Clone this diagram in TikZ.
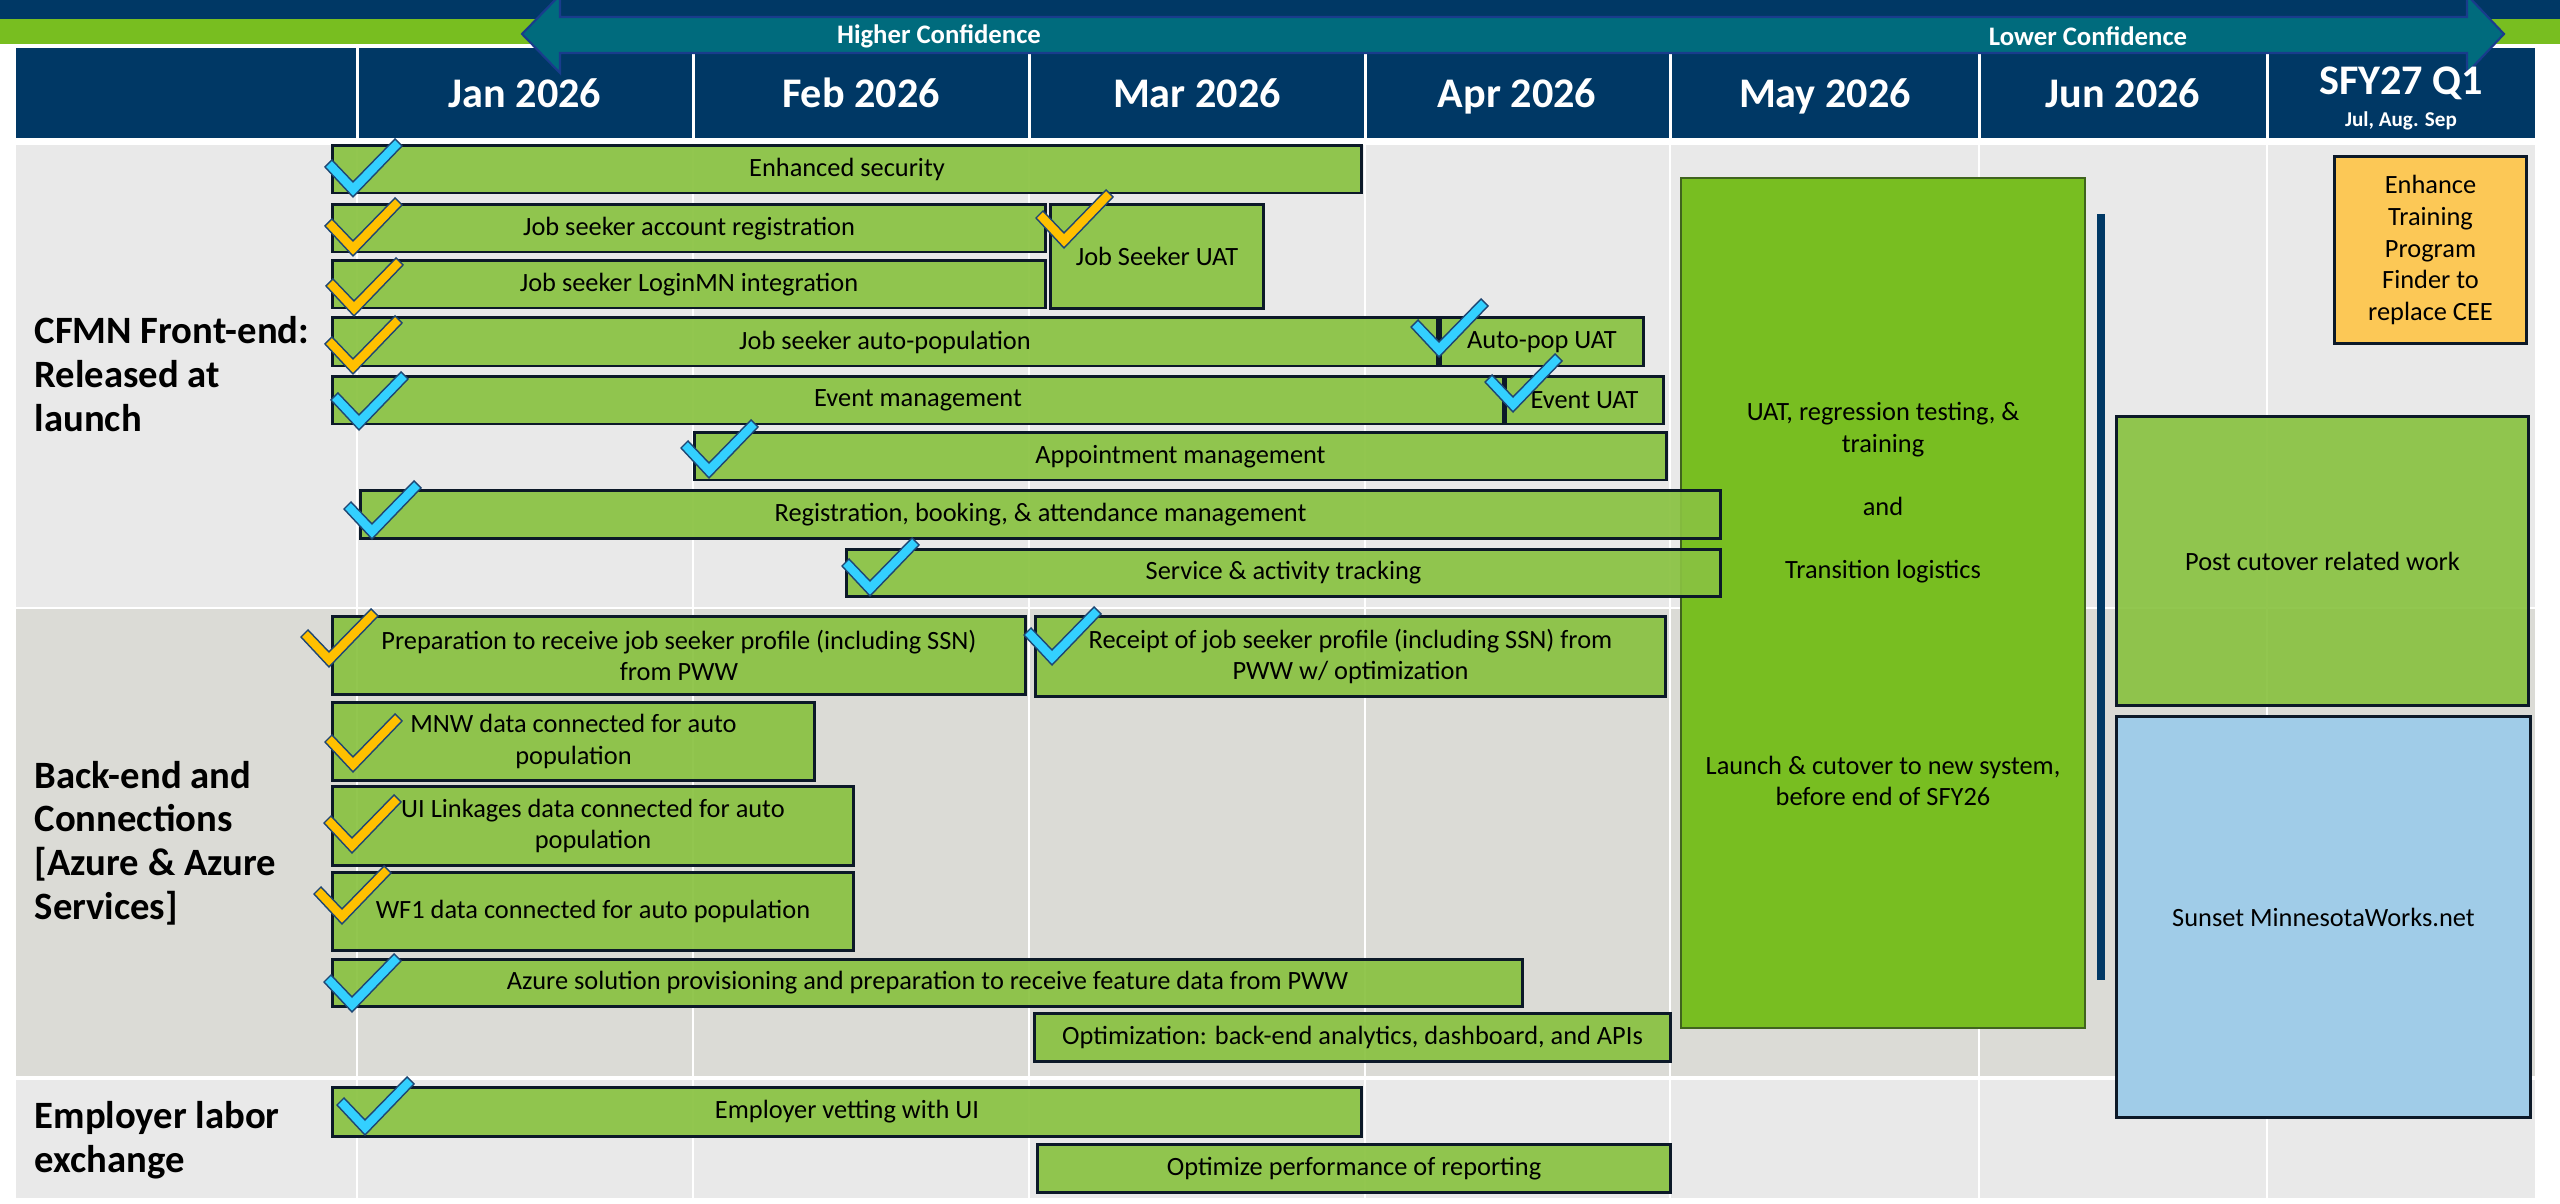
\documentclass[tikz,border=0pt]{standalone}
\usepackage{fontspec}
\setmainfont{Carlito}
\usepackage{xcolor}
\usepackage{tikz}
\usetikzlibrary{positioning, calc}
\definecolor{navy}{RGB}{0, 56, 101}
\definecolor{topgreen}{RGB}{120, 190, 32}
\definecolor{arrowteal}{RGB}{0, 107, 125}
\definecolor{arrowline}{RGB}{25, 60, 140}
\definecolor{bargreen}{RGB}{137, 194, 65}
\definecolor{barline}{RGB}{12, 25, 40}
\definecolor{bigbox}{RGB}{120, 190, 33}
\definecolor{bigline}{RGB}{64, 100, 30}
\definecolor{sunsetblue}{RGB}{160, 204, 232}
\definecolor{enhyellow}{RGB}{252, 200, 86}
\definecolor{chkblue}{RGB}{51, 208, 255}
\definecolor{chkorange}{RGB}{255, 192, 0}
\definecolor{chkline}{RGB}{30, 70, 115}
\definecolor{rowlight}{RGB}{233, 233, 233}
\definecolor{rowdark}{RGB}{219, 219, 214}

\tikzset{
    bar/.style={draw=barline, fill=bargreen, fill opacity=0.92, text opacity=1, line width=0.85pt,
        inner sep=0pt, align=center, font=\fontsize{7.5}{9}\selectfont, text=black},
    month/.style={text=white, font=\bfseries\fontsize{12}{14}\selectfont, anchor=base},
    conf/.style={text=white, font=\bfseries\fontsize{7.6}{9}\selectfont},
    rowlabel/.style={anchor=west, align=left, text=black, inner sep=0pt,
        font=\bfseries\fontsize{11}{12.4}\selectfont},
    boxtext/.style={align=center, text=black, font=\fontsize{7.5}{9}\selectfont},
    blueck/.style={fill=chkblue, draw=chkline, line width=0.4pt},
    orangeck/.style={fill=chkorange, draw=chkline, line width=0.4pt},
    pics/tick/.style={code={
        \filldraw[#1] (0,0) -- (-28,-30) -- (-21,-37) -- (0,-15) -- (42,-58) -- (49,-51) -- cycle;
    }}
}

\begin{document}
\begin{tikzpicture}[x=0.01cm, y=-0.01cm]
        \useasboundingbox (0,0) rectangle (2560,1204);

        % bands and header
        \fill[navy] (0,-10) rectangle (2560,19);
        \fill[topgreen] (0,19) rectangle (2560,44);
        \fill[navy] (16,48) rectangle (2535,138);
        \foreach \x in {357,693,1029,1365,1670,1979,2267}
            \draw[white, line width=0.03cm] (\x,48) -- (\x,138);

        % rows
        \fill[rowlight] (16,145) rectangle (2535,607);
        \fill[rowdark] (16,609) rectangle (2535,1076);
        \fill[rowlight] (16,1080) rectangle (2535,1198);
        \foreach \x in {357,693,1029,1365,1670,1979,2267}
            \draw[white, line width=0.025cm] (\x,145) -- (\x,1198);

        \filldraw[fill=arrowteal, draw=arrowline, line width=0.6pt]
            (522,34) -- (560,-5) -- (560,17) -- (2467,17) -- (2467,-5) -- (2504,34)
            -- (2467,73) -- (2467,53) -- (560,53) -- (560,73) -- cycle;
        \node[conf] (hiconf) at (939,36) {Higher Confidence};
        \node[conf] (loconf) at (2088,36) {Lower Confidence};

        \node[month] (jan) at (525,108) {Jan 2026};
        \node[month] (feb) at (861,108) {Feb 2026};
        \node[month] (mar) at (1197,108) {Mar 2026};
        \node[month] (apr) at (1517,108) {Apr 2026};
        \node[month] (may) at (1825,108) {May 2026};
        \node[month] (jun) at (2123,108) {Jun 2026};
        \node[month] (sfy) at (2401,95) {SFY27 Q1};
        \node[text=white, font=\bfseries\fontsize{6}{7}\selectfont, anchor=base] (sfym) at (2401,127) {Jul, Aug. Sep};

        \node[rowlabel] (cfmn) at (34,374) {CFMN Front-end:\\Released at\\launch};
        \node[rowlabel] (backend) at (34,843) {Back-end and\\Connections\\{[}Azure \& Azure\\Services{]}};
        \node[rowlabel] (emplx) at (34,1140) {Employer labor\\exchange};

        % big blocks on the right
        \node[draw=bigline, fill=bigbox, line width=0.6pt, minimum width=4.04cm, minimum height=8.5cm] (uatbox) at (1883,603) {};
        \node[boxtext] (uattxt) at (1883,493) {UAT, regression testing, \&\\training\\[9pt]and\\[9pt]Transition logistics};
        \node[boxtext] (launch) at (1883,781) {Launch \& cutover to new system,\\before end of SFY26};
        \coordinate (cuttop) at (2101,214);
        \coordinate (cutbot) at (2101,980);
        \draw[navy, line width=0.08cm] (cuttop) -- (cutbot);
        \node[bar, minimum width=4.11cm, minimum height=2.88cm] (post) at (2322.5,561) {Post cutover related work};
        \node[bar, fill=sunsetblue, fill opacity=1, minimum width=4.13cm, minimum height=4.0cm] (sunset) at (2323.5,917) {Sunset MinnesotaWorks.net};
        \node[bar, fill=enhyellow, fill opacity=1, minimum width=1.91cm, minimum height=1.86cm] (enh) at (2430.5,250) {Enhance\\Training\\Program\\Finder to\\replace CEE};

        % CFMN front-end
        \node[bar, minimum width=10.28cm, minimum height=0.47cm] (es) at (847,169.5) {Enhanced security};
        \node[bar, minimum width=7.12cm, minimum height=0.47cm] (jsar) at (689,228.5) {Job seeker account registration};
        \node[bar, minimum width=2.12cm, minimum height=1.03cm] (jsuat) at (1157,256.5) {Job Seeker UAT};
        \node[bar, minimum width=7.12cm, minimum height=0.47cm] (jslm) at (689,284.5) {Job seeker LoginMN integration};
        \node[bar, minimum width=11.04cm, minimum height=0.48cm] (jsap) at (885,342) {Job seeker auto-population};
        \node[bar, minimum width=2.02cm, minimum height=0.48cm] (apuat) at (1542,342) {Auto-pop UAT};
        \node[bar, minimum width=11.7cm, minimum height=0.47cm] (evm) at (918,400.5) {Event management};
        \node[bar, minimum width=1.57cm, minimum height=0.47cm] (evuat) at (1584.5,400.5) {Event UAT};
        \node[bar, minimum width=9.71cm, minimum height=0.47cm] (apm) at (1180.5,456.5) {Appointment management};
        \node[bar, minimum width=13.59cm, minimum height=0.47cm] (rba) at (1040.5,514.5) {Registration, booking, \& attendance management};
        \node[bar, minimum width=8.73cm, minimum height=0.46cm] (sat) at (1283.5,573) {Service \& activity tracking};

        % back-end
        \node[bar, minimum width=6.92cm, minimum height=0.77cm] (prep) at (679,655.5) {Preparation to receive job seeker profile (including SSN)\\from PWW};
        \node[bar, minimum width=6.29cm, minimum height=0.79cm] (rcpt) at (1350.5,656.5) {Receipt of job seeker profile (including SSN) from\\PWW w/ optimization};
        \node[bar, minimum width=4.81cm, minimum height=0.77cm] (mnw) at (573.5,741.5) {MNW data connected for auto\\population};
        \node[bar, minimum width=5.2cm, minimum height=0.78cm] (uil) at (593,826) {UI Linkages data connected for auto\\population};
        \node[bar, minimum width=5.2cm, minimum height=0.77cm] (wf1) at (593,911.5) {WF1 data connected for auto population};
        \node[bar, minimum width=11.89cm, minimum height=0.46cm] (azr) at (927.5,983) {Azure solution provisioning and preparation to receive feature data from PWW};
        \node[bar, minimum width=6.35cm, minimum height=0.47cm] (opt) at (1352.5,1037.5) {Optimization: back-end analytics, dashboard, and APIs};

        % employer
        \node[bar, minimum width=10.28cm, minimum height=0.48cm] (emp) at (847,1112) {Employer vetting with UI};
        \node[bar, minimum width=6.32cm, minimum height=0.47cm] (opr) at (1354,1168.5) {Optimize performance of reporting};

        % ticks
        \pic at (353,197) {tick=blueck};
        \pic at (353,256) {tick=orangeck};
        \pic at (354,316) {tick=orangeck};
        \pic at (353,374) {tick=orangeck};
        \pic at (359,430) {tick=blueck};
        \pic at (709,478) {tick=blueck};
        \pic at (1064,248) {tick=orangeck};
        \pic at (1439,357) {tick=blueck};
        \pic at (1513,412) {tick=blueck};
        \pic at (372,539) {tick=blueck};
        \pic at (870,596) {tick=blueck};
        \pic at (329,667) {tick=orangeck};
        \pic at (1052,665) {tick=blueck};
        \pic at (353,772) {tick=orangeck};
        \pic at (352,853) {tick=orangeck};
        \pic at (342,924) {tick=orangeck};
        \pic at (352,1012) {tick=blueck};
        \pic at (365,1135) {tick=blueck};
\end{tikzpicture}
\end{document}
